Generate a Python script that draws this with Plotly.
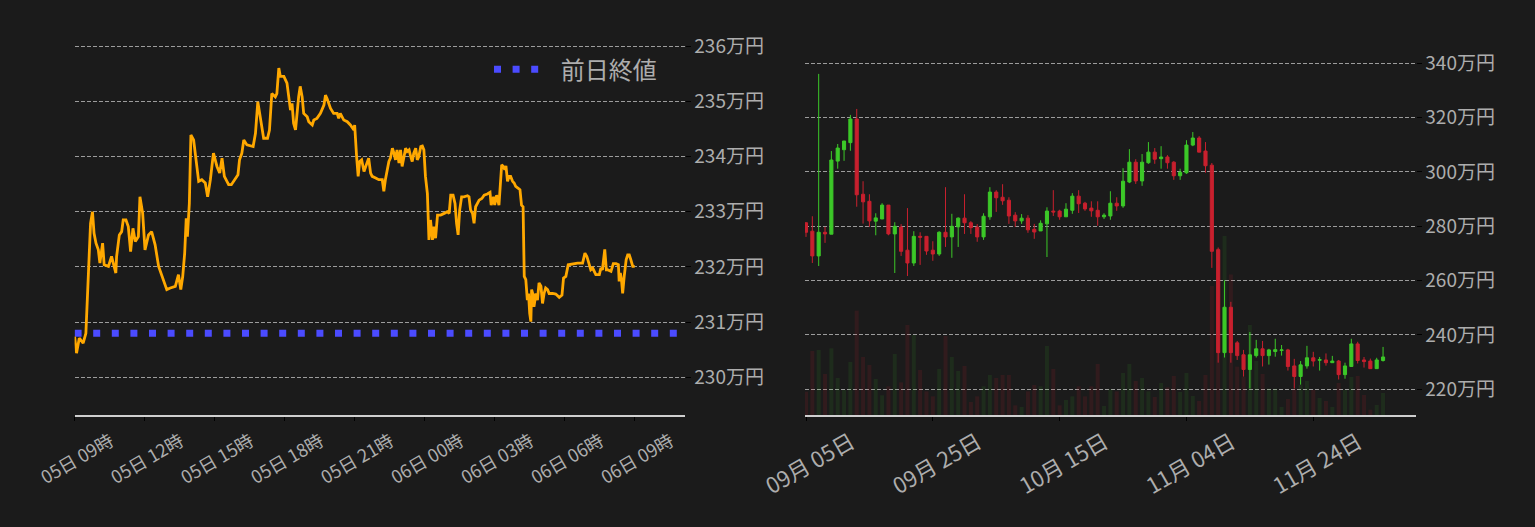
import pandas as pd
import plotly.graph_objects as go

# ------------------------
# Intraday price (万円), 12/05 09:00 -> 12/06 09:00
# ------------------------
line_time = [
    "05 09:00", "05 09:05", "05 09:12", "05 09:22", "05 09:29", "05 09:35", "05 09:41", "05 09:46",
    "05 09:50", "05 09:55", "05 10:01", "05 10:05", "05 10:12", "05 10:16", "05 10:27", "05 10:35",
    "05 10:46", "05 10:48", "05 10:55", "05 11:01", "05 11:05", "05 11:12", "05 11:18", "05 11:24",
    "05 11:30", "05 11:36", "05 11:44", "05 11:48", "05 11:55", "05 12:01", "05 12:10", "05 12:18",
    "05 12:27", "05 12:36", "05 12:42", "05 12:49", "05 12:57", "05 13:06", "05 13:19", "05 13:27",
    "05 13:33", "05 13:38", "05 13:43", "05 13:47", "05 13:50", "05 13:55", "05 13:59", "05 14:06",
    "05 14:10", "05 14:14", "05 14:19", "05 14:27", "05 14:36", "05 14:42", "05 14:49", "05 14:57",
    "05 15:06", "05 15:13", "05 15:19", "05 15:25", "05 15:36", "05 15:43", "05 15:53", "05 16:00",
    "05 16:04", "05 16:10", "05 16:15", "05 16:23", "05 16:39", "05 16:45", "05 16:51", "05 16:59",
    "05 17:06", "05 17:16", "05 17:21", "05 17:27", "05 17:36", "05 17:40", "05 17:45", "05 17:49",
    "05 17:58", "05 18:06", "05 18:10", "05 18:15", "05 18:19", "05 18:23", "05 18:28", "05 18:32",
    "05 18:36", "05 18:40", "05 18:45", "05 18:49", "05 18:58", "05 19:02", "05 19:11", "05 19:15",
    "05 19:23", "05 19:32", "05 19:41", "05 19:45", "05 19:49", "05 19:58", "05 20:06", "05 20:15",
    "05 20:19", "05 20:23", "05 20:32", "05 20:41", "05 20:49", "05 20:58", "05 21:00", "05 21:05",
    "05 21:09", "05 21:13", "05 21:18", "05 21:24", "05 21:28", "05 21:32", "05 21:36", "05 21:41",
    "05 21:45", "05 21:54", "05 22:02", "05 22:11", "05 22:15", "05 22:19", "05 22:24", "05 22:28",
    "05 22:32", "05 22:37", "05 22:41", "05 22:45", "05 22:49", "05 22:54", "05 22:58", "05 23:02",
    "05 23:07", "05 23:11", "05 23:15", "05 23:20", "05 23:24", "05 23:28", "05 23:32", "05 23:37",
    "05 23:41", "05 23:45", "05 23:50", "05 23:54", "05 23:58",
    "06 00:02", "06 00:07", "06 00:11", "06 00:15", "06 00:20", "06 00:24", "06 00:28", "06 00:33",
    "06 00:41", "06 00:50", "06 00:58", "06 01:03", "06 01:07", "06 01:13", "06 01:18", "06 01:22",
    "06 01:26", "06 01:30", "06 01:35", "06 01:41", "06 01:50", "06 01:54", "06 01:58", "06 02:03",
    "06 02:07", "06 02:11", "06 02:20", "06 02:27", "06 02:33", "06 02:41", "06 02:48", "06 02:51",
    "06 02:57", "06 03:00", "06 03:05", "06 03:11", "06 03:15", "06 03:18", "06 03:22", "06 03:26",
    "06 03:29", "06 03:33", "06 03:37", "06 03:41", "06 03:46", "06 03:50", "06 03:54", "06 04:00",
    "06 04:05", "06 04:09", "06 04:13", "06 04:16", "06 04:20", "06 04:24", "06 04:27", "06 04:30",
    "06 04:33", "06 04:35", "06 04:39", "06 04:41", "06 04:46", "06 04:50", "06 04:54", "06 04:59",
    "06 05:03", "06 05:07", "06 05:11", "06 05:16", "06 05:20", "06 05:29", "06 05:37", "06 05:46",
    "06 05:53", "06 05:57", "06 06:03", "06 06:09", "06 06:20", "06 06:33", "06 06:46", "06 06:52",
    "06 06:57", "06 07:01", "06 07:07", "06 07:12", "06 07:16", "06 07:20", "06 07:29", "06 07:33",
    "06 07:37", "06 07:43", "06 07:47", "06 07:50", "06 07:59", "06 08:05", "06 08:12", "06 08:18",
    "06 08:20", "06 08:23", "06 08:26", "06 08:29", "06 08:33", "06 08:38", "06 08:42", "06 08:46",
    "06 08:50", "06 08:55", "06 09:00",
]
line_price = [
    230.74, 230.44, 230.71, 230.62, 230.80, 231.77, 232.79, 233.00,
    232.61, 232.43, 232.31, 232.07, 232.43, 232.04, 232.01, 232.19,
    231.89, 232.19, 232.58, 232.64, 232.85, 232.85, 232.73, 232.28,
    232.70, 232.46, 232.55, 233.27, 232.97, 232.31, 232.58, 232.64,
    232.40, 232.01, 231.89, 231.71, 231.59, 231.62, 231.65, 231.86,
    231.59, 231.83, 232.25, 232.88, 232.55, 233.15, 234.39, 234.30,
    234.06, 233.88, 233.55, 233.58, 233.52, 233.27, 233.58, 234.06,
    233.82, 233.70, 233.97, 233.64, 233.49, 233.49, 233.61, 233.67,
    233.94, 234.06, 234.30, 234.21, 234.18, 234.42, 234.99, 234.63,
    234.33, 234.33, 234.48, 235.14, 235.08, 235.14, 235.60, 235.45,
    235.45, 235.33, 235.14, 234.84, 234.96, 234.60, 234.48, 234.84,
    235.08, 235.27, 235.08, 234.78, 234.72, 234.63, 234.57, 234.66,
    234.69, 234.78, 234.93, 235.11, 235.05, 234.87, 234.78, 234.78,
    234.69, 234.78, 234.66, 234.63, 234.57, 234.48, 234.57, 234.00,
    233.64, 233.91, 233.94, 233.73, 233.82, 233.91, 233.97, 233.70,
    233.64, 233.61, 233.58, 233.58, 233.37, 233.58, 233.76, 233.91,
    233.97, 234.15, 234.06, 233.94, 234.12, 233.88, 234.12, 233.82,
    234.00, 234.15, 234.09, 234.12, 234.00, 233.91, 234.06, 234.15,
    233.94, 234.00, 234.18, 234.19, 234.12,
    233.64, 233.33, 232.49, 232.85, 232.49, 232.73, 232.52, 232.94,
    232.94, 232.97, 233.00, 232.97, 233.30, 233.30, 233.15, 232.79,
    232.58, 233.03, 233.27, 233.27, 233.29, 233.27, 233.03, 232.97,
    232.79, 233.09, 233.21, 233.24, 233.30, 233.32, 233.35, 233.12,
    233.27, 233.12, 233.30, 233.12, 233.46, 233.85, 233.82, 233.76,
    233.83, 233.55, 233.64, 233.64, 233.55, 233.52, 233.46, 233.43,
    233.40, 233.12, 233.09, 231.83, 231.77, 231.40, 231.52, 231.16,
    231.01, 231.59, 231.49, 231.28, 231.52, 231.40, 231.71, 231.65,
    231.34, 231.52, 231.62, 231.59, 231.52, 231.52, 231.51, 231.45,
    231.49, 231.80, 231.83, 232.04, 232.06, 232.07, 232.07, 232.25,
    232.19, 232.07, 231.95, 231.98, 231.92, 231.86, 231.86, 231.98,
    231.95, 232.32, 231.95, 231.95, 231.92, 232.06, 232.06, 232.04,
    231.74, 231.89, 231.77, 231.52, 231.83, 232.13, 232.22, 232.22,
    232.13, 232.01, 232.01,
]
prev_close = 230.8
intraday_span = ["2025-12-05 09:00", "2025-12-06 11:08"]

# ------------------------
# Daily candles (万円), 09/05 -> 12/05
# ------------------------
first_day = "2025-09-05"
opens = [
    281.3, 278.2, 269.1, 277.8, 277.1, 304.0, 308.2, 310.8, 319.5, 291.8,
    289.2, 281.9, 282.7, 287.8, 277.2, 279.7, 271.2, 266.5, 276.3, 276.3,
    271.2, 269.8, 277.8, 276.1, 279.8, 283.0, 281.3, 279.7, 276.1, 283.5,
    292.6, 290.7, 289.6, 284.1, 282.0, 283.0, 278.9, 278.3, 280.9, 285.6,
    285.6, 283.5, 285.9, 291.1, 288.5, 286.7, 285.9, 283.5, 283.8, 288.5,
    287.5, 296.3, 303.6, 296.7, 303.4, 307.3, 304.9, 305.5, 303.6, 298.6,
    299.7, 309.9, 312.5, 307.7, 302.5, 271.4, 233.5, 250.2, 237.1, 232.7,
    227.3, 232.4, 234.9, 232.4, 233.9, 234.3, 234.5, 228.6, 224.7, 228.6,
    231.6, 230.7, 230.8, 229.8, 230.4, 225.4, 228.4, 236.7, 230.8, 230.4,
    227.6, 230.6,
]
highs = [
    281.5, 283.7, 336.1, 279.8, 307.7, 310.3, 311.4, 321.0, 323.2, 296.6,
    291.8, 284.8, 288.5, 287.8, 281.5, 280.8, 286.7, 278.2, 277.8, 276.3,
    274.5, 278.2, 294.4, 284.6, 283.3, 291.8, 281.9, 280.8, 284.8, 294.4,
    293.3, 295.5, 290.7, 285.2, 284.5, 284.1, 280.9, 282.2, 287.0, 293.3,
    286.1, 288.5, 292.2, 293.3, 289.0, 289.2, 289.2, 284.8, 292.9, 290.7,
    301.4, 308.4, 304.7, 306.6, 311.0, 308.8, 309.5, 306.2, 304.0, 301.2,
    311.7, 314.7, 313.2, 311.0, 303.3, 272.2, 260.1, 252.2, 237.8, 234.5,
    241.1, 238.2, 237.8, 234.9, 238.6, 236.3, 234.9, 231.2, 230.4, 236.0,
    233.8, 231.9, 233.2, 232.3, 230.8, 229.8, 238.6, 237.5, 231.9, 231.3,
    231.6, 235.6,
]
lows = [
    276.1, 266.5, 265.4, 273.9, 277.1, 301.2, 304.1, 307.8, 287.2, 281.0,
    279.8, 276.7, 282.7, 276.7, 262.8, 269.1, 261.7, 265.4, 265.8, 269.5,
    267.3, 269.1, 272.4, 268.4, 272.4, 277.2, 277.2, 274.3, 275.0, 282.4,
    285.3, 287.9, 280.9, 279.8, 280.9, 277.6, 275.4, 278.3, 268.7, 283.8,
    282.4, 283.5, 284.6, 284.9, 285.7, 283.5, 280.2, 282.7, 282.4, 285.7,
    286.8, 295.9, 295.6, 294.9, 303.0, 303.0, 301.2, 301.2, 297.1, 297.1,
    299.3, 309.5, 307.3, 299.7, 264.7, 229.8, 231.7, 229.8, 230.8, 224.7,
    220.3, 231.7, 228.4, 229.1, 232.0, 232.4, 226.9, 220.3, 221.7, 227.6,
    228.4, 226.9, 228.7, 229.8, 223.6, 223.9, 228.4, 229.5, 228.0, 227.6,
    227.6, 230.2,
]
closes = [
    277.8, 269.1, 277.8, 277.2, 304.4, 308.8, 311.4, 319.5, 291.6, 289.0,
    282.0, 283.1, 287.8, 277.2, 280.0, 270.8, 266.5, 276.3, 276.0, 270.9,
    269.8, 277.8, 276.1, 280.0, 283.0, 281.3, 279.5, 276.1, 283.7, 292.6,
    290.5, 289.4, 283.8, 282.0, 283.0, 278.7, 277.9, 281.1, 285.6, 285.3,
    283.5, 286.3, 291.1, 288.3, 286.4, 285.7, 283.5, 284.1, 288.5, 287.5,
    296.6, 303.6, 296.7, 303.6, 307.3, 304.7, 305.5, 303.4, 298.6, 299.9,
    309.9, 312.5, 307.3, 302.3, 270.8, 233.5, 250.2, 233.5, 232.4, 227.3,
    232.7, 234.9, 232.4, 234.5, 234.6, 234.5, 228.4, 224.7, 229.0, 231.6,
    230.4, 230.9, 229.8, 230.4, 225.4, 228.6, 236.7, 230.6, 230.2, 227.6,
    230.8, 231.9,
]
volumes = [
    70, 192, 195, 123, 200, 111, 75, 159, 313, 174,
    150, 108, 59, 86, 183, 98, 270, 240, 135, 71,
    56, 138, 237, 174, 132, 147, 39, 56, 86, 120,
    111, 120, 120, 29, 24, 71, 90, 86, 207, 138,
    29, 45, 56, 86, 56, 86, 153, 27, 77, 71,
    126, 153, 102, 111, 71, 54, 96, 83, 117, 69,
    126, 57, 42, 120, 387, 500, 537, 421, 145, 115,
    270, 162, 123, 79, 79, 24, 48, 79, 90, 102,
    75, 51, 42, 24, 96, 75, 114, 117, 60, 16,
    30, 66,
]
daily_span = ["2025-09-04 20:13", "2025-12-10 02:50"]

# ------------------------
# Colours / fonts
# ------------------------
BG = "#1b1b1b"
TXT = "#adadad"
GRID = "#9c9c9c"
UP = "#3cc828"
DOWN = "#c8202e"
FONT = "Noto Sans CJK JP"

times = pd.to_datetime(["2025-12-" + t for t in line_time])
days = pd.date_range(first_day, periods=len(opens), freq="D")
vol_colors = ["rgba(60,200,40,0.10)" if c >= o else "rgba(200,30,45,0.13)"
              for o, c in zip(opens, closes)]

fig = go.Figure()

# left: intraday line + previous close
fig.add_trace(go.Scatter(
    x=intraday_span, y=[prev_close, prev_close], mode="lines",
    name="\u2002\u2009前日終値",
    line=dict(color="#4b4bff", width=7, dash="7px,11.6px"),
    xaxis="x", yaxis="y", hoverinfo="skip"))
fig.add_trace(go.Scatter(
    x=times, y=line_price, mode="lines", showlegend=False,
    line=dict(color="#ffa800", width=2.8), xaxis="x", yaxis="y"))

# right: volume (behind) + candles
fig.add_trace(go.Bar(
    x=days, y=volumes, marker=dict(color=vol_colors, line_width=0),
    showlegend=False, xaxis="x2", yaxis="y2"))
fig.add_trace(go.Candlestick(
    x=days, open=opens, high=highs, low=lows, close=closes, showlegend=False,
    increasing=dict(line=dict(color=UP, width=1), fillcolor=UP),
    decreasing=dict(line=dict(color=DOWN, width=1), fillcolor=DOWN),
    xaxis="x2", yaxis="y3"))

W = 1535.0
xaxis_common = dict(
    showgrid=False, showline=True, linecolor="#cfcfcf", linewidth=2,
    ticks="outside", ticklen=4, tickcolor="#000000", tickangle=-30,
    zeroline=False, color=TXT, automargin=False,
)
yaxis_common = dict(
    side="right", showgrid=True, gridcolor=GRID, griddash="4px,2px", gridwidth=1,
    ticks="outside", ticklen=5, tickcolor="#000000", zeroline=False,
    showline=False, ticksuffix="万円", tickfont=dict(size=19, color=TXT),
    automargin=False,
)

fig.update_layout(
    width=1535, height=527, autosize=False,
    paper_bgcolor=BG, plot_bgcolor=BG,
    font=dict(family=FONT, color=TXT),
    margin=dict(l=0, r=0, t=30, b=112, pad=0, autoexpand=False),
    showlegend=True,
    legend=dict(
        x=662 / W, xanchor="right", y=0.897, yanchor="middle",
        bgcolor="rgba(0,0,0,0)", font=dict(size=24, color=TXT),
        itemwidth=45,
    ),
    bargap=0.37,
    xaxis=dict(
        xaxis_common, domain=[74.6 / W, 684.5 / W], anchor="y",
        range=intraday_span, tick0="2025-12-05 09:00", dtick=3 * 3600 * 1000,
        tickformat="%d日 %H時", tickfont=dict(size=18, color=TXT),
        ticklabelshift=36, ticklabelstandoff=3,
    ),
    yaxis=dict(
        yaxis_common, anchor="x", range=[229.32, 236.29], tick0=230, dtick=1,
    ),
    xaxis2=dict(
        xaxis_common, domain=[805 / W, 1415.5 / W], anchor="y2",
        range=daily_span, tick0=first_day, dtick=20 * 86400000,
        tickformat="%m月 %d日", tickfont=dict(size=22, color=TXT),
        ticklabelshift=45, rangeslider=dict(visible=False),
    ),
    yaxis2=dict(
        anchor="x2", range=[0, max(volumes) * 2.15], visible=False,
        showgrid=False, zeroline=False,
    ),
    yaxis3=dict(
        yaxis_common, anchor="x2", overlaying="y2", range=[210.54, 352.26],
        tick0=220, dtick=20,
    ),
)

fig.write_html("out.html", config={"displayModeBar": False},
               post_script="document.body.style.margin='0';")
